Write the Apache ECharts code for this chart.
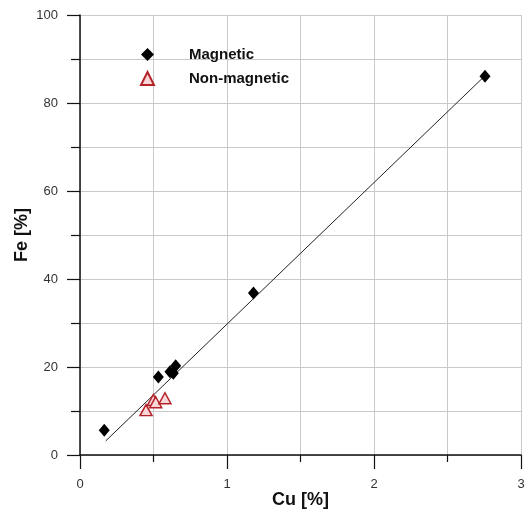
<!DOCTYPE html>
<html>
<head>
<meta charset="utf-8">
<title>Fe vs Cu</title>
<script src="https://cdn.jsdelivr.net/npm/echarts@6/dist/echarts.min.js"></script>
<style>
    html, body { margin: 0; padding: 0; background: #fff; }
    #main { width: 528px; height: 512px; }
</style>
</head>
<body>
<div id="main"></div>
<script type="text/javascript">
    // data
    var magCu = [0.165, 0.533, 0.612, 0.635, 0.651, 1.18, 2.755];
    var magFe = [5.6, 17.7, 18.9, 18.6, 20.3, 36.8, 86.1];
    var nonMagCu = [0.449, 0.499, 0.515, 0.578];
    var nonMagFe = [10.2, 12.5, 12.0, 12.9];
    // fitted line end points
    var fitCu = [0.175, 2.755];
    var fitFe = [3.2, 86.2];

    function pairs(xs, ys) {
        var out = [];
        for (var i = 0; i < xs.length; i++) out.push([xs[i], ys[i]]);
        return out;
    }

    var chart = echarts.init(document.getElementById('main'));
    var gridColor = '#c9c9c9';

    var option = {
        backgroundColor: '#fff',
        animation: false,
        grid: { left: 80, right: 7, top: 15, bottom: 57, containLabel: false, outerBoundsMode: 'none' },
        legend: {
            orient: 'vertical',
            left: 135,
            top: 42,
            itemWidth: 13,
            itemHeight: 13,
            itemGap: 9,
            data: ['Magnetic', 'Non-magnetic'],
            textStyle: {
                fontFamily: 'Liberation Sans, Arial',
                fontWeight: 'bold',
                fontSize: 15,
                color: '#111',
                padding: [0, 0, 0, 30]
            }
        },
        xAxis: {
            type: 'value',
            min: 0,
            max: 3,
            interval: 1,
            name: 'Cu [%]',
            nameLocation: 'middle',
            nameGap: 36,
            nameMoveOverlap: false,
            nameTextStyle: { fontFamily: 'Liberation Sans, Arial', fontWeight: 'bold', fontSize: 18, color: '#111' },
            axisLine: { lineStyle: { color: '#111', width: 1.5 } },
            axisTick: { show: true, length: 14, lineStyle: { color: '#111', width: 1.2 } },
            minorTick: { show: true, splitNumber: 2, length: 7, lineStyle: { color: '#111', width: 1.2 } },
            axisLabel: { margin: 23, fontFamily: 'Liberation Sans, Arial', fontSize: 13, color: '#333' },
            splitLine: { show: true, lineStyle: { color: gridColor, width: 1 } },
            minorSplitLine: { show: true, lineStyle: { color: gridColor, width: 1 } }
        },
        yAxis: {
            type: 'value',
            min: 0,
            max: 100,
            interval: 20,
            name: 'Fe [%]',
            nameLocation: 'middle',
            nameGap: 49,
            nameMoveOverlap: false,
            nameTextStyle: { fontFamily: 'Liberation Sans, Arial', fontWeight: 'bold', fontSize: 18, color: '#111' },
            axisLine: { show: true, lineStyle: { color: '#111', width: 1.5 } },
            axisTick: { show: true, length: 13, lineStyle: { color: '#111', width: 1.2 } },
            minorTick: { show: true, splitNumber: 2, length: 9, lineStyle: { color: '#111', width: 1.2 } },
            axisLabel: { margin: 22, fontFamily: 'Liberation Sans, Arial', fontSize: 13, color: '#333' },
            splitLine: { show: true, lineStyle: { color: gridColor, width: 1 } },
            minorSplitLine: { show: true, lineStyle: { color: gridColor, width: 1 } }
        },
        series: [
            {
                name: 'fit',
                type: 'line',
                data: pairs(fitCu, fitFe),
                showSymbol: false,
                silent: true,
                lineStyle: { color: '#222', width: 1 },
                z: 1
            },
            {
                name: 'Magnetic',
                type: 'scatter',
                symbol: 'diamond',
                symbolSize: [11, 13],
                data: pairs(magCu, magFe),
                itemStyle: { color: '#000', opacity: 1 },
                z: 3
            },
            {
                name: 'Non-magnetic',
                type: 'scatter',
                symbol: 'triangle',
                symbolSize: [12, 11],
                data: pairs(nonMagCu, nonMagFe),
                itemStyle: { color: '#f8d6d8', borderColor: '#b5232a', borderWidth: 1.5, opacity: 1 },
                z: 2
            }
        ]
    };
    chart.setOption(option);
</script>
</body>
</html>
